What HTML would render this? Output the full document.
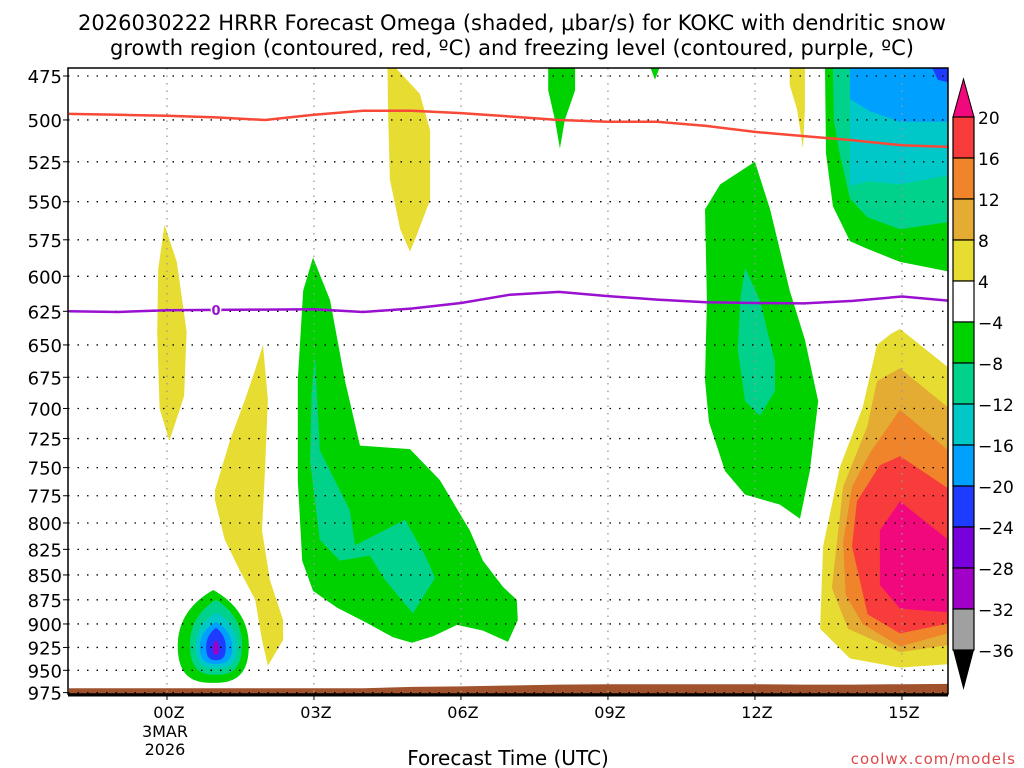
<!DOCTYPE html>
<html><head><meta charset="utf-8"><style>
body{margin:0;background:#fff;}
svg{display:block;font-family:"DejaVu Sans","Liberation Sans",sans-serif;}
</style></head><body>
<svg id="chart" width="1024" height="768" viewBox="0 0 1024 768">
<text x="512" y="30" text-anchor="middle" font-size="21">2026030222 HRRR Forecast Omega (shaded, μbar/s) for KOKC with dendritic snow</text>
<text x="512" y="55" text-anchor="middle" font-size="21">growth region (contoured, red, ºC) and freezing level (contoured, purple, ºC)</text>
<defs><clipPath id="pc"><rect x="68" y="68" width="880" height="626"/></clipPath></defs>
<g id="fills" clip-path="url(#pc)"></g>
<g id="grid"></g>
<g id="lines" clip-path="url(#pc)"></g>
<g id="axes"></g>
<g id="cbar"></g>
<text x="508" y="765" text-anchor="middle" font-size="20">Forecast Time (UTC)</text>
<text x="1016" y="764" text-anchor="end" font-size="15" fill="#e04848" letter-spacing="1">coolwx.com/models</text>
</svg>
<script>
const xTicks=[0,3,6,9,12,15];
const xTickLabels=["00Z","03Z","06Z","09Z","12Z","15Z"];
const pTicks=[475,500,525,550,575,600,625,650,675,700,725,750,775,800,825,850,875,900,925,950,975];
const cbLabels=["20","16","12","8","4","−4","−8","−12","−16","−20","−24","−28","−32","−36"];
const cbColors=["#f83c3c","#f0842a","#e4ac32","#e6dc32","#ffffff","#00d200","#00d28c","#00c8c8","#00a0ff","#1e3cff","#7800dc","#a000c8","#a0a0a0"];
const hours=[-2,-1,0,1,2,3,4,5,6,7,8,9,10,11,12,13,14,15,16];
const dgzTop=[496.5,497,497.6,498.5,500,497,494.6,494.7,496,498,500,501,501,503.5,507,509.5,512,515,516];
const freezing=[625,625.5,624.2,624,623.8,623.5,625.5,623,619,613,611,614,616.5,618.5,619,619.3,617.5,614.3,617.5];
const surfaceP=[970,970,970,970,970,970,970,968.5,968,967,966,965.5,965.5,965.5,965.5,966,966,965.5,965];
// shaded omega regions: [color, [[hour,hPa],...]]
const regions=[
["#e6dc32",[[-0.05,565],[0.2,590],[0.4,640],[0.35,690],[0.05,727],[-0.15,700],[-0.2,640],[-0.18,595]]],
["#e6dc32",[[1.96,650],[2.06,693],[2.0,752],[1.94,807],[2.1,855],[2.37,896],[2.37,917],[2.06,945],[1.94,917],[1.8,875],[1.49,846],[1.18,816],[0.98,779],[0.98,770],[1.29,726],[1.59,693],[1.8,669]]],
["#00d200",[[2.98,587],[3.33,617],[3.63,677],[3.94,731],[4.96,734],[5.57,761],[6.18,807],[6.45,836],[6.86,862],[7.14,875],[7.16,896],[6.96,919],[6.45,907],[5.92,901],[5.43,913],[5.0,920],[4.61,914],[4.08,899],[3.47,883],[2.98,866],[2.76,836],[2.67,761],[2.67,677],[2.78,610]]],
["#00d28c",[[3.02,658],[3.12,735],[3.73,788],[3.84,821],[4.86,797],[5.27,831],[5.47,853],[5.02,889],[4.45,855],[4.14,831],[3.53,836],[3.12,816],[2.92,744],[2.95,690]]],
["#e6dc32",[[4.5,470],[4.65,470],[5.16,485],[5.37,506],[5.37,549],[5.06,575],[4.96,583],[4.76,568],[4.55,536],[4.51,494]]],
["#00d200",[[7.78,470],[8.33,470],[8.33,483],[8.12,500],[8.02,517],[7.92,500],[7.78,483]]],
["#00d200",[[9.86,470],[10.06,470],[9.96,477]]],
["#e6dc32",[[12.71,470],[13.02,470],[13.02,494],[12.98,517],[12.86,494],[12.71,480]]],
["#00d200",[[10.98,555],[11.29,539],[12.0,525],[12.31,555],[12.71,610],[13.02,646],[13.29,694],[13.12,753],[12.92,796],[12.51,783],[11.8,774],[11.39,753],[11.06,711],[10.98,677],[11.02,617]]],
["#00d28c",[[11.8,594],[12.1,617],[12.41,663],[12.41,686],[12.1,706],[11.8,694],[11.65,654],[11.7,617]]],
["#00d200",[[13.43,470],[16,470],[16,597],[14.96,590],[14.29,581],[13.94,576],[13.59,553],[13.45,520]]],
["#00d28c",[[13.59,470],[16,470],[16,563],[14.96,568],[14.29,560],[13.94,548],[13.73,520],[13.61,500]]],
["#00c8c8",[[13.94,470],[16,470],[16,533],[14.96,539],[14.3,537],[13.94,540]]],
["#00a0ff",[[13.94,470],[16,470],[16,501],[14.96,501],[14.35,495],[13.94,488]]],
["#1e3cff",[[15.61,470],[16,470],[16,479],[15.73,477]]],
["#e6dc32",[[14.96,638],[16,669],[16,943],[14.96,947],[13.94,937],[13.33,905],[13.39,822],[13.73,750],[14.2,699],[14.49,650],[14.76,642]]],
["#e4ac32",[[14.96,668],[16,701],[16,922],[14.96,930],[13.9,905],[13.57,863],[13.8,767],[14.29,715],[14.49,678]]],
["#f0842a",[[14.96,701],[16,737],[16,909],[14.96,924],[14.2,900],[13.85,870],[13.8,818],[13.98,767],[14.35,737]]],
["#f83c3c",[[14.96,740],[16,770],[16,899],[14.96,910],[14.3,890],[13.98,822],[14.08,780],[14.55,748]]],
["#f0087c",[[14.96,780],[16,818],[16,888],[14.96,884],[14.55,860],[14.55,807]]]
];
// small intense blob near 01Z
const blobColors=["#00d200","#00d28c","#00c8c8","#00a0ff","#1e3cff","#a000c8"];
const blobLeft=[0.22,0.47,0.59,0.67,0.80,0.94];
const blobRight=[1.67,1.53,1.43,1.33,1.20,1.06];
const blobTop=[865,875,888,898,904,917];
const blobBottom=[964,955,948,943,939,933];

const X0=68,X1=948,Y0=68,Y1=694,H0=-2.02,H1=15.94,P0=470.6,P1=976.6;
const xs=h=>X0+(h-H0)/(H1-H0)*(X1-X0);
const ys=p=>Y0+Math.log(p/P0)/Math.log(P1/P0)*(Y1-Y0);
const NS="http://www.w3.org/2000/svg";
function mk(t,a,par){const e=document.createElementNS(NS,t);for(const k in a)e.setAttribute(k,a[k]);par.appendChild(e);return e;}
const fills=document.getElementById('fills');
regions.forEach((r,i)=>{
 const e=mk('polygon',{points:r[1].map(q=>xs(q[0]).toFixed(1)+','+ys(q[1]).toFixed(1)).join(' '),fill:r[0]},fills);
 
 
});
blobColors.forEach((c,i)=>{
 const l=xs(blobLeft[i]),r=xs(blobRight[i]),t=ys(blobTop[i]),b=ys(blobBottom[i]);
 const cx=(l+r)/2,my=t+(b-t)*0.6;
 const d=`M${cx},${t} C${cx+(r-cx)*0.7},${t+(my-t)*0.25} ${r},${my-(my-t)*0.4} ${r},${my} C${r},${b-(b-my)*0.1} ${cx+(r-cx)*0.5},${b} ${cx},${b} C${cx-(cx-l)*0.5},${b} ${l},${b-(b-my)*0.1} ${l},${my} C${l},${my-(my-t)*0.4} ${cx-(cx-l)*0.7},${t+(my-t)*0.25} ${cx},${t}Z`;
 const e=mk('path',{d:d,fill:c},fills);
 
 
});
// ground
let gd='M'+xs(hours[0])+','+Y1;
hours.forEach((h,i)=>{gd+=' L'+xs(h).toFixed(1)+','+ys(surfaceP[i]).toFixed(1);});
gd+=' L'+xs(hours[hours.length-1])+','+Y1+' Z';
const gr=mk('path',{d:gd,fill:'#a0522d'},fills);


// grid
const grid=document.getElementById('grid');
pTicks.forEach(p=>{
 const e=mk('line',{x1:X0,x2:X1,y1:ys(p),y2:ys(p),stroke:'#000','stroke-width':1.3,'stroke-dasharray':'1.5 8'},grid);
 
 
});
xTicks.forEach(h=>{
 const e=mk('line',{x1:xs(h),x2:xs(h),y1:Y0,y2:Y1,stroke:'#999','stroke-width':1.3,'stroke-dasharray':'1.5 6'},grid);
 
 
});
// lines
const lines=document.getElementById('lines');
const rl=mk('polyline',{points:hours.map((h,i)=>xs(h).toFixed(1)+','+ys(dgzTop[i]).toFixed(1)).join(' '),fill:'none',stroke:'#f84838','stroke-width':2.5},lines);


const pl=mk('polyline',{points:hours.map((h,i)=>xs(h).toFixed(1)+','+ys(freezing[i]).toFixed(1)).join(' '),fill:'none',stroke:'#9a10d0','stroke-width':2.5},lines);


const fz=mk('text',{x:xs(1),y:ys(freezing[3])+5,'text-anchor':'middle','font-size':13,fill:'#9a10d0','font-weight':'bold',stroke:'#fff','stroke-width':3,'paint-order':'stroke'},lines);
fz.textContent='0';


// axes
const ax=document.getElementById('axes');
mk('rect',{x:X0,y:Y0,width:X1-X0,height:Y1-Y0,fill:'none',stroke:'#000','stroke-width':1.5},ax);
mk('line',{x1:X0,x2:X1,y1:Y1+1,y2:Y1+1,stroke:'#000','stroke-width':3},ax);
pTicks.forEach(p=>{
 mk('line',{x1:X0-5,x2:X0,y1:ys(p),y2:ys(p),stroke:'#000'},ax);
 const t=mk('text',{x:X0-6,y:ys(p)+7,'text-anchor':'end','font-size':18},ax);
 t.textContent=p;
 
 
});
xTicks.forEach((h,i)=>{
 mk('line',{x1:xs(h),x2:xs(h),y1:Y1,y2:Y1+6,stroke:'#000'},ax);
 const t=mk('text',{x:xs(h)+2,y:Y1+24,'text-anchor':'middle','font-size':16},ax);
 t.textContent=xTickLabels[i];
 
 
});
[["3MAR",737],["2026",755]].forEach(d=>{
 const t=mk('text',{x:xs(0)-2,y:d[1],'text-anchor':'middle','font-size':16},ax);
 t.textContent=d[0];
 
 
});
// colorbar
const cb=document.getElementById('cbar');
const bx=953,bw=21,btop=117,bh=41;
const tu=mk('polygon',{points:`${bx},${btop} ${bx+bw},${btop} ${bx+bw/2},${btop-38}`,fill:'#f0087c',stroke:'#000'},cb);


cbColors.forEach((c,i)=>{
 const e=mk('rect',{x:bx,y:btop+i*bh,width:bw,height:bh,fill:c,stroke:'#000','stroke-width':1.2},cb);
 
 
});
const yb=btop+cbColors.length*bh;
const td=mk('polygon',{points:`${bx},${yb} ${bx+bw},${yb} ${bx+bw/2},${yb+40}`,fill:'#000'},cb);


cbLabels.forEach((l,i)=>{
 const t=mk('text',{x:978,y:btop+i*bh+7,'font-size':17},cb);
 t.textContent=l;
 
 
});
</script>
</body></html>
